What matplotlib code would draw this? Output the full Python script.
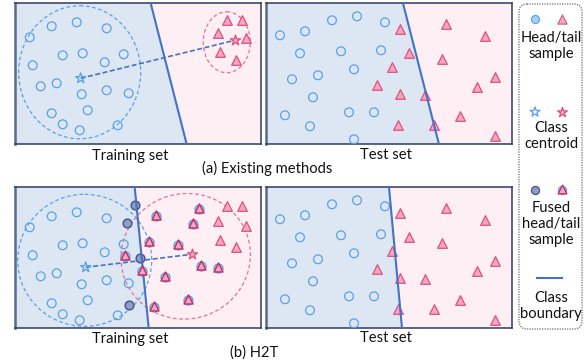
import numpy as np
import matplotlib.pyplot as plt
from matplotlib.patches import Ellipse, FancyBboxPatch

plt.rcParams['font.family'] = ['Lato', 'DejaVu Sans']

# ---- data (panel-local pixel coordinates, y pointing down) ----
# head-class samples in the training set
head_train_x = [15, 37, 62, 92, 48, 68, 109, 90, 18, 26, 42, 67, 92, 114, 37, 73, 48, 65, 103]
head_train_y = [34, 23, 19, 25, 52, 50, 51, 59, 62, 83, 80, 91, 87, 90, 110, 107, 121, 127, 122]

# tail-class samples in the training set (top row / bottom row)
tail_train_x = [212, 227, 203, 231, 205, 221]
tail_train_y = [17, 17, 30, 35, 49, 57]
tail_train_y_b = [19, 19, 34, 39, 53, 60]

# fused samples of H2T
fused_head_x = [120, 112, 125, 114]
fused_head_y = [18, 36, 71, 118]
fused_tail_x = [141, 184, 178, 134, 163, 110, 127, 186, 203, 150, 173, 139]
fused_tail_y = [29, 22, 37, 55, 58, 69, 84, 79, 81, 90, 113, 120]

# test set samples
head_test_x = [14, 39, 66, 91, 119, 34, 75, 115, 88, 26, 52, 47, 19, 83, 108, 44, 88]
head_test_y = [32, 28, 17, 13, 19, 50, 48, 47, 66, 76, 72, 94, 112, 109, 109, 123, 136]
tail_test_x = [134, 180, 143, 176, 126, 111, 134, 159, 132, 168, 194, 219, 229, 211, 229]
tail_test_y = [26, 21, 50, 56, 64, 82, 91, 92, 122, 122, 113, 33, 74, 84, 133]

# class centroids (head, tail) per training panel
centroid_a = [(66, 75), (220, 37)]
centroid_b = [(71, 80), (177, 67)]

# class boundaries: x at top, x at bottom
boundary_train_a = (136, 172)
boundary_test_a = (137, 173)
boundary_train_b = (120, 134)
boundary_test_b = (123, 136)

# ---- style ----
W, H = 588, 364
PW, PH = 246, 141
blue_bg = '#dde6f3'
pink_bg = '#fdeff4'
frame_c = '#2c3a5e'
line_c = '#4472c4'
head_c = '#5aa2e6'
tail_edge = '#e0507f'
tail_fill = '#f4a7c2'
fused_fill = '#8f9cc6'
fused_edge = '#3f5684'
text_c = '#111111'


def add_panel(fig, left, top, boundary):
    ax = fig.add_axes([left / W, 1 - (top + PH) / H, PW / W, PH / H])
    ax.set_xlim(0, PW)
    ax.set_ylim(PH, 0)
    bt, bb = boundary
    ax.fill([0, bt, bb, 0], [0, 0, PH, PH], color=blue_bg, lw=0, zorder=0)
    ax.fill([bt, PW, PW, bb], [0, 0, PH, PH], color=pink_bg, lw=0, zorder=0)
    ax.plot([bt, bb], [0, PH], color=line_c, lw=1.5, zorder=5)
    ax.set_xticks([])
    ax.set_yticks([])
    for s in ax.spines.values():
        s.set_color(frame_c)
        s.set_linewidth(1.1)
    ax.spines['left'].set_color('#5a6a8c')
    ax.spines['left'].set_linewidth(1.8)
    return ax


def heads(ax, x, y, dy=0):
    ax.scatter(x, np.array(y) + dy, s=40, facecolors='none', edgecolors=head_c, linewidths=0.9, zorder=3)


def tails(ax, x, y):
    ax.scatter(x, y, s=48, marker='^', facecolors=tail_fill, edgecolors=tail_edge, linewidths=0.9, zorder=3)


def centroids(ax, c):
    ax.scatter([c[0][0]], [c[0][1]], s=60, marker='*', facecolors='none',
               edgecolors=head_c, linewidths=0.9, zorder=4)
    ax.scatter([c[1][0]], [c[1][1]], s=60, marker='*', facecolors=tail_fill,
               edgecolors=tail_edge, linewidths=0.9, zorder=4)
    ax.plot([c[0][0], c[1][0]], [c[0][1], c[1][1]], color=line_c, lw=1.2,
            ls=(0, (3, 1.5)), zorder=3)


fig = plt.figure(figsize=(W / 100, H / 100), dpi=100)

# (a) existing methods, training set
ax = add_panel(fig, 14.7, 3.3, boundary_train_a)
ax.add_patch(Ellipse((65, 69), 122, 133, fill=False, ec=head_c, lw=0.9, ls=(0, (3, 2)), zorder=2))
ax.add_patch(Ellipse((212, 39), 47, 61, fill=False, ec='#e8709a', lw=0.9, ls=(0, (3, 2)), zorder=2))
heads(ax, head_train_x, head_train_y)
tails(ax, tail_train_x, tail_train_y)
centroids(ax, centroid_a)

# (a) test set
ax = add_panel(fig, 266, 3.3, boundary_test_a)
heads(ax, head_test_x, head_test_y)
tails(ax, tail_test_x, tail_test_y)

# (b) H2T, training set
ax = add_panel(fig, 14.7, 187.3, boundary_train_b)
ax.add_patch(Ellipse((70, 73), 134, 132, fill=False, ec=head_c, lw=0.9, ls=(0, (3, 2)), zorder=2))
ax.add_patch(Ellipse((171, 69), 130, 125, angle=-20, fill=False, ec='#e8709a', lw=0.9,
                     ls=(0, (3, 2)), zorder=2))
heads(ax, head_train_x, head_train_y, dy=6)
tails(ax, tail_train_x, tail_train_y_b)
ax.scatter(fused_head_x, fused_head_y, s=40, facecolors=fused_fill, edgecolors=fused_edge,
           linewidths=1.0, zorder=4)
ax.scatter(fused_tail_x, fused_tail_y, s=44, facecolors='#9cc6ee', edgecolors=head_c,
           linewidths=0.8, zorder=4)
ax.scatter(fused_tail_x, np.array(fused_tail_y) - 1, s=42, marker='^', facecolors=tail_fill,
           edgecolors='#c8285e', linewidths=1.0, zorder=5)
centroids(ax, centroid_b)

# (b) test set
ax = add_panel(fig, 266, 187.3, boundary_test_b)
heads(ax, head_test_x, head_test_y)
tails(ax, tail_test_x, tail_test_y)

# ---- overlay: captions and legend ----
ov = fig.add_axes([0, 0, 1, 1], zorder=10)
ov.set_xlim(0, W)
ov.set_ylim(H, 0)
ov.axis('off')
ov.patch.set_alpha(0)

fs = 10.6
ov.text(130, 156, 'Training set', ha='center', va='center', fontsize=fs, color=text_c)
ov.text(386, 155, 'Test set', ha='center', va='center', fontsize=fs, color=text_c)
ov.text(267, 168, '(a) Existing methods', ha='center', va='center', fontsize=fs, color=text_c)
ov.text(130, 339, 'Training set', ha='center', va='center', fontsize=fs, color=text_c)
ov.text(386, 338, 'Test set', ha='center', va='center', fontsize=fs, color=text_c)
ov.text(254, 353, '(b) H2T', ha='center', va='center', fontsize=fs, color=text_c)

ov.add_patch(FancyBboxPatch((519, 4), 63, 325, boxstyle='round,pad=0,rounding_size=8',
                            fill=False, ec='#6e6e6e', lw=0.9, ls=(0, (1, 1))))
ov.scatter([535], [19], s=34, facecolors='#a9cdf1', edgecolors=head_c, linewidths=0.8)
ov.scatter([562], [19], s=44, marker='^', facecolors=tail_fill, edgecolors=tail_edge, linewidths=0.8)
ov.scatter([535], [112], s=55, marker='*', facecolors='none', edgecolors=head_c, linewidths=0.9)
ov.scatter([562], [112], s=55, marker='*', facecolors=tail_fill, edgecolors=tail_edge, linewidths=0.9)
ov.scatter([535], [190], s=34, facecolors=fused_fill, edgecolors=fused_edge, linewidths=0.9)
ov.scatter([562], [190], s=36, facecolors='#9cc6ee', edgecolors=head_c, linewidths=0.8)
ov.scatter([562], [189], s=40, marker='^', facecolors=tail_fill, edgecolors='#c8285e', linewidths=0.9)
ov.plot([537, 562], [278, 278], color=line_c, lw=1.5)

legend_text = [(46, 'Head/tail\nsample'), (136, 'Class\ncentroid'),
               (224, 'Fused\nhead/tail\nsample'), (306, 'Class\nboundary')]
for y, t in legend_text:
    ov.text(551, y, t, ha='center', va='center', fontsize=fs, color=text_c, linespacing=1.2)

fig.savefig('out.png', dpi=100)
